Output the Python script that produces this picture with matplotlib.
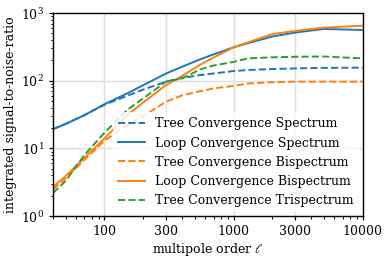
import numpy as np
import matplotlib
matplotlib.use("Agg")
import matplotlib.pyplot as plt
from matplotlib.ticker import FixedLocator, FixedFormatter

plt.rcParams["font.family"] = "DejaVu Serif"
plt.rcParams["mathtext.fontset"] = "dejavuserif"
plt.rcParams["font.size"] = 9

# multipole orders at which values were read
ell = [40, 50, 70, 100, 150, 200, 300, 400, 550, 700, 1000, 1300, 2000, 3000, 5000, 10000]

tree_spec = [19.3, 23, 31, 44, 60, 74, 97, 110, 121, 128, 139, 144, 149, 152, 155, 156]
loop_spec = [19.3, 23, 31, 45, 65, 86, 128, 161, 207, 245, 312, 360, 450, 515, 582, 562]
tree_bisp = [2.5, 3.6, 6.8, 13, 22, 30, 49, 61, 70, 77, 84, 91, 95, 97, 97, 97]
loop_bisp = [2.7, 3.9, 7.3, 14, 31, 48, 86, 118, 172, 220, 312, 370, 490, 545, 608, 651]
tree_trisp = [2.2, 3.3, 8, 17, 37, 55, 97, 108, 147, 168, 190, 214, 222, 226, 228, 214]

labels = ["Tree Convergence Spectrum", "Loop Convergence Spectrum",
          "Tree Convergence Bispectrum", "Loop Convergence Bispectrum",
          "Tree Convergence Trispectrum"]
xticks = [100, 300, 1000, 3000, 10000]

blue, orange, green = "#1f77b4", "#ff7f0e", "#2ca02c"

fig = plt.figure(figsize=(3.9, 2.61), dpi=100)
ax = fig.add_axes([0.136, 0.172, 0.794, 0.778])

ax.plot(ell, tree_spec, "--", color=blue, lw=1.4, label=labels[0])
ax.plot(ell, loop_spec, "-", color=blue, lw=1.4, label=labels[1])
ax.plot(ell, tree_bisp, "--", color=orange, lw=1.4, label=labels[2])
ax.plot(ell, loop_bisp, "-", color=orange, lw=1.4, label=labels[3])
ax.plot(ell, tree_trisp, "--", color=green, lw=1.4, label=labels[4])

ax.set_xscale("log")
ax.set_yscale("log")
ax.set_xlim(40, 10000)
ax.set_ylim(1, 1000)
ax.xaxis.set_major_locator(FixedLocator(xticks))
ax.xaxis.set_major_formatter(FixedFormatter([str(t) for t in xticks]))
ax.grid(True, which="major", color="#dddddd", lw=1)
ax.set_axisbelow(True)
ax.tick_params(which="major", direction="out", length=3, width=0.9)
ax.tick_params(which="minor", direction="out", length=1.8, width=0.7)
for s in ax.spines.values():
    s.set_linewidth(1.0)

ax.set_xlabel(r"multipole order $\ell$", labelpad=2)
ax.set_ylabel("integrated signal-to-noise-ratio", labelpad=3)

leg = ax.legend(loc="lower right", fontsize=9, borderaxespad=0.3, handlelength=2.2)
leg.get_frame().set_edgecolor("none")

fig.savefig("out.png", dpi=100)
